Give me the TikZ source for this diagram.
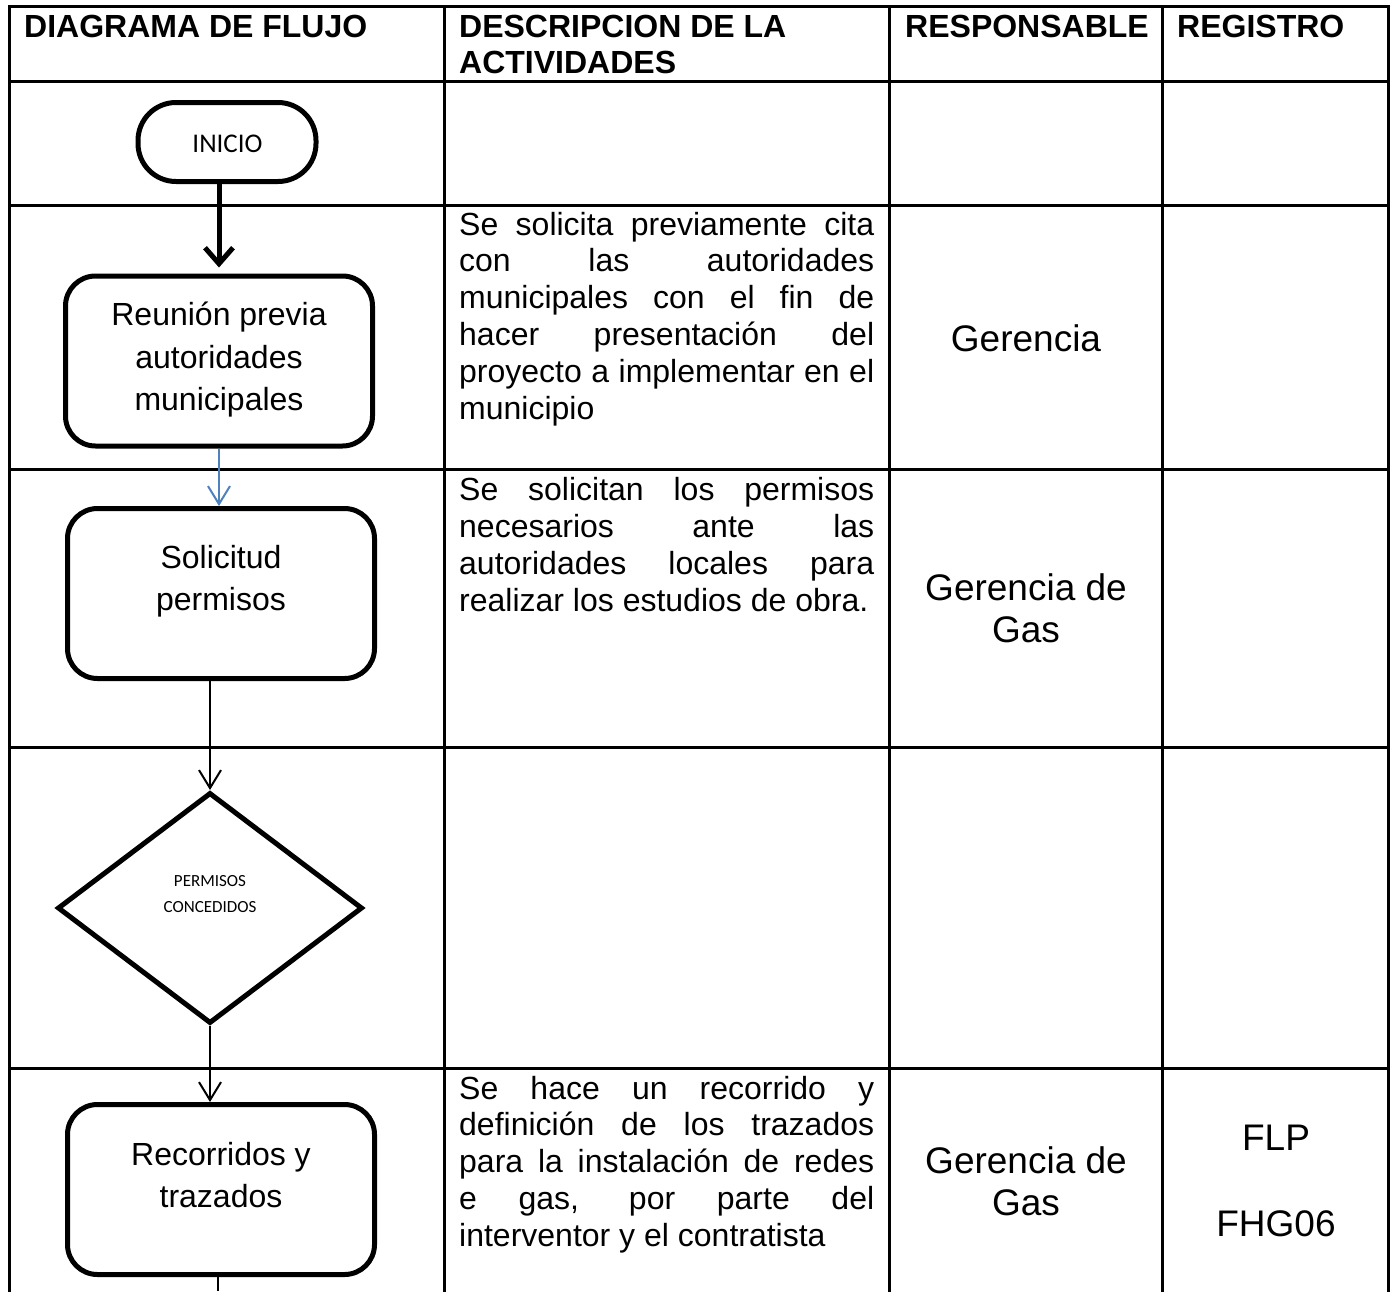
\documentclass[tikz,border=0pt]{standalone}
\usepackage{fontspec}
\setmainfont{Liberation Sans}
\newfontfamily\calib{Carlito}
\usetikzlibrary{shapes.geometric,arrows.meta}
\definecolor{wblue}{RGB}{79,129,189}
\newcommand\jline[1]{\makebox[415pt][s]{#1}}
\begin{document}
\begin{tikzpicture}[x=1pt,y=-1pt,
  grid/.style={line width=3pt,line cap=rect},
  hdr/.style={anchor=base west,inner sep=0,font=\fontsize{32}{36}\selectfont\bfseries},
  dsc/.style={anchor=base west,inner sep=0,font=\fontsize{32}{37}\selectfont},
  resp/.style={align=center,inner sep=0,font=\fontsize{37}{42}\selectfont},
  boxtxt/.style={align=center,inner sep=0,font=\fontsize{32}{42.5}\selectfont},
  pbox/.style={draw,line width=5pt,rounded corners=30pt,minimum width=307pt,minimum height=170pt,inner sep=0},
  flow/.style={line width=2pt,-{Straight Barb[length=18pt,width=22pt]}},
]
\useasboundingbox (0,0) rectangle (1392,1291);
\fill[white] (0,0) rectangle (1392,1291);

% table grid
\foreach \x in {9,444,889,1162,1388} \draw[grid] (\x,6) -- (\x,1295);
\foreach \y in {6,81,205,469,747,1068} \draw[grid] (9,\y) -- (1388,\y);

% headers
\node[hdr] (h1) at (24,37) {DIAGRAMA DE FLUJO};
\node[hdr] (h2a) at (459,37) {DESCRIPCION DE LA};
\node[hdr] (h2b) at (459,73) {ACTIVIDADES};
\node[hdr] (h3) at (905,37) {RESPONSABLE};
\node[hdr] (h4) at (1177,37) {REGISTRO};

% flow shapes
\node[draw,line width=5pt,rounded corners=38pt,minimum width=178pt,minimum height=79pt,inner sep=0] (inicio) at (227,142) {};
\node[font=\calib\fontsize{27}{30}\selectfont,inner sep=0] (inicioT) at (227.5,144) {INICIO};

\node[pbox] (reunion) at (219,361) {};
\node[boxtxt] (reunionT) at (219,360) {Reunión previa\\autoridades\\municipales};

\node[pbox] (solicitud) at (221,593.5) {};
\node[boxtxt] (solicitudT) at (221,581) {Solicitud\\permisos};

\node[draw,diamond,line width=5pt,minimum width=305pt,minimum height=231pt,inner sep=0] (permisos) at (210,908) {};
\node[align=center,inner sep=0,font=\calib\fontsize{17}{26}\selectfont] (permisosT) at (210,894) {PERMISOS\\CONCEDIDOS};

\node[pbox] (recorridos) at (221,1189.5) {};
\node[boxtxt] (recorridosT) at (221,1175) {Recorridos y\\trazados};

% connectors
\draw[line width=5pt,-{Straight Barb[length=16pt,width=28pt]},shorten >=6pt] (inicio.south -| reunion.north) -- (reunion.north);
\draw[flow,wblue] (reunion.south) -- (reunion.south |- solicitud.north);
\draw[flow] (solicitud.south -| permisos.north) -- (permisos.north);
\draw[flow] (permisos.south) -- (permisos.south |- recorridos.north);
\coordinate (fin) at (218,1291);
\draw[line width=2pt] (recorridos.south -| fin) -- (fin);

% descriptions
\node[dsc] (d21) at (459,235) {\jline{Se solicita previamente cita}};
\node[dsc] (d22) at (459,271.8) {\jline{con las autoridades}};
\node[dsc] (d23) at (459,308.6) {\jline{municipales con el fin de}};
\node[dsc] (d24) at (459,345.4) {\jline{hacer presentación del}};
\node[dsc] (d25) at (459,382.2) {\jline{proyecto a implementar en el}};
\node[dsc] (d26) at (459,419) {municipio};

\node[dsc] (d31) at (459,500) {\jline{Se solicitan los permisos}};
\node[dsc] (d32) at (459,537) {\jline{necesarios ante las}};
\node[dsc] (d33) at (459,574) {\jline{autoridades locales para}};
\node[dsc] (d34) at (459,611) {realizar los estudios de obra.};

\node[dsc] (d51) at (459,1099) {\jline{Se hace un recorrido y}};
\node[dsc] (d52) at (459,1135.8) {\jline{definición de los trazados}};
\node[dsc] (d53) at (459,1172.6) {\jline{para la instalación de redes}};
\node[dsc] (d54) at (459,1209.4) {\jline{e gas, por parte del}};
\node[dsc] (d55) at (459,1246.2) {interventor y el contratista};

% responsables
\node[resp] (r2) at (1026,338) {Gerencia};
\node[resp] (r3) at (1026,608) {Gerencia de\\Gas};
\node[resp] (r5) at (1026,1181) {Gerencia de\\Gas};

% registros
\node[resp] (g1) at (1276,1138) {FLP};
\node[resp] (g2) at (1276,1224) {FHG06};
\end{tikzpicture}
\end{document}
